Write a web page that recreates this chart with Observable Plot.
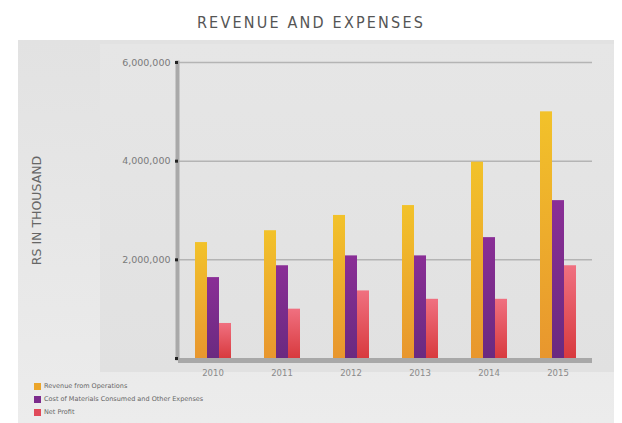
<!DOCTYPE html>
<html>
<head>
<meta charset="utf-8">
<script src="https://cdn.jsdelivr.net/npm/d3@7"></script>
<script src="https://cdn.jsdelivr.net/npm/@observablehq/plot@0.6"></script>
<style>
  body { margin: 0; background: #fff; font-family: "DejaVu Sans", sans-serif; }
  #wrap { position: relative; width: 622px; height: 423px; overflow: hidden; }
  #title { position: absolute; left: 0; top: 13px; width: 622px; text-align: center;
    font-family: "DejaVu Sans Condensed", "DejaVu Sans", sans-serif; font-size: 16px; letter-spacing: 2.2px; color: #555; }
  #panel { position: absolute; left: 18px; top: 40px; width: 596px; height: 383px;
    background: linear-gradient(#e2e2e2, #ececec); }
  #inner { position: absolute; left: 100px; top: 44px; width: 514px; height: 328px;
    background: linear-gradient(#e6e6e6, #e1e1e1); }
  #chart { position: absolute; left: 0; top: 40px; }
  #legend { position: absolute; left: 34px; top: 380px; font-size: 6.5px; color: #666; line-height: 13px; }
  .item { display: flex; align-items: center; gap: 3px; }
  .sw { width: 7px; height: 7px; }
</style>
</head>
<body>
<div id="wrap">
  <div id="panel"></div>
  <div id="inner"></div>
  <div id="title">REVENUE AND EXPENSES</div>
  <div id="chart"></div>
  <div id="legend"></div>
</div>
<script>
const years = ["2010", "2011", "2012", "2013", "2014", "2015"];
const series = ["Revenue from Operations", "Cost of Materials Consumed and Other Expenses", "Net Profit"];
const revenue = [2350000, 2590000, 2900000, 3100000, 3980000, 5000000];
const expenses = [1640000, 1880000, 2080000, 2080000, 2450000, 3200000];
const profit = [710000, 1000000, 1370000, 1200000, 1200000, 1880000];
const yTicks = [0, 2000000, 4000000, 6000000];
const yTickLabels = ["", "2,000,000", "4,000,000", "6,000,000"];
const colors = ["#eba52a", "#7c2b8c", "#e04a5a"];

const values = [revenue, expenses, profit];
const data = [];
years.forEach((yr, i) => series.forEach((s, j) => data.push({year: yr, series: s, value: values[j][i]})));

const chart = Plot.plot({
  width: 622,
  height: 340,
  marginTop: 22,
  marginBottom: 22,
  marginLeft: 176,
  marginRight: 29,
  style: {background: "transparent", fontFamily: "DejaVu Sans, sans-serif"},
  fx: {domain: years, padding: 0, label: null, axis: null},
  x: {domain: series, paddingInner: 0, paddingOuter: 1.3, axis: null},
  y: {domain: [0, 6000000]},
  color: {domain: series, range: ["url(#g0)", "url(#g1)", "url(#g2)"]},
  marks: [
    Plot.ruleY([2000000, 4000000, 6000000], {stroke: "#b4b4b4", strokeWidth: 1.5}),
    Plot.barY(data, {fx: "year", x: "series", y: "value", fill: "series"}),
    Plot.ruleY([0], {stroke: "#a8a8a8", strokeWidth: 5, dy: 2}),
    Plot.frame({anchor: "left", facetAnchor: "left", stroke: "#a9a9a9", strokeWidth: 4, dx: -1}),
    Plot.axisY({ticks: yTicks, tickFormat: (d) => yTickLabels[yTicks.indexOf(d)], tickSize: 3, tickPadding: 5,
      stroke: "#222", strokeWidth: 3, fill: "#7a7a7a", fontSize: 9.5, label: null}),
    Plot.axisY({ticks: [], label: "RS IN THOUSAND", labelAnchor: "center", labelArrow: "none", labelOffset: 146,
      fontSize: 12.5, fill: "#666"}),
    Plot.axisFx({anchor: "bottom", tickSize: 0, tickPadding: 11, fontSize: 8.5, fill: "#8a8a8a", label: null})
  ]
});

// gradients for bars
const ns = "http://www.w3.org/2000/svg";
const defs = document.createElementNS(ns, "defs");
const grads = [["#f2c22a", "#e8962e"], ["#8a2e96", "#6a2a80"], ["#f07080", "#d83a3e"]];
grads.forEach((g, i) => {
  const lg = document.createElementNS(ns, "linearGradient");
  lg.setAttribute("id", "g" + i);
  lg.setAttribute("x1", "0"); lg.setAttribute("y1", "0"); lg.setAttribute("x2", "0"); lg.setAttribute("y2", "1");
  [[0, g[0]], [1, g[1]]].forEach(([o, c]) => {
    const st = document.createElementNS(ns, "stop");
    st.setAttribute("offset", o); st.setAttribute("stop-color", c);
    lg.appendChild(st);
  });
  defs.appendChild(lg);
});
chart.insertBefore(defs, chart.firstChild);
document.getElementById("chart").appendChild(chart);

const legend = document.getElementById("legend");
series.forEach((s, i) => {
  const it = document.createElement("div");
  it.className = "item";
  it.innerHTML = `<span class="sw" style="background:${colors[i]}"></span><span>${s}</span>`;
  legend.appendChild(it);
});
</script>
</body>
</html>
